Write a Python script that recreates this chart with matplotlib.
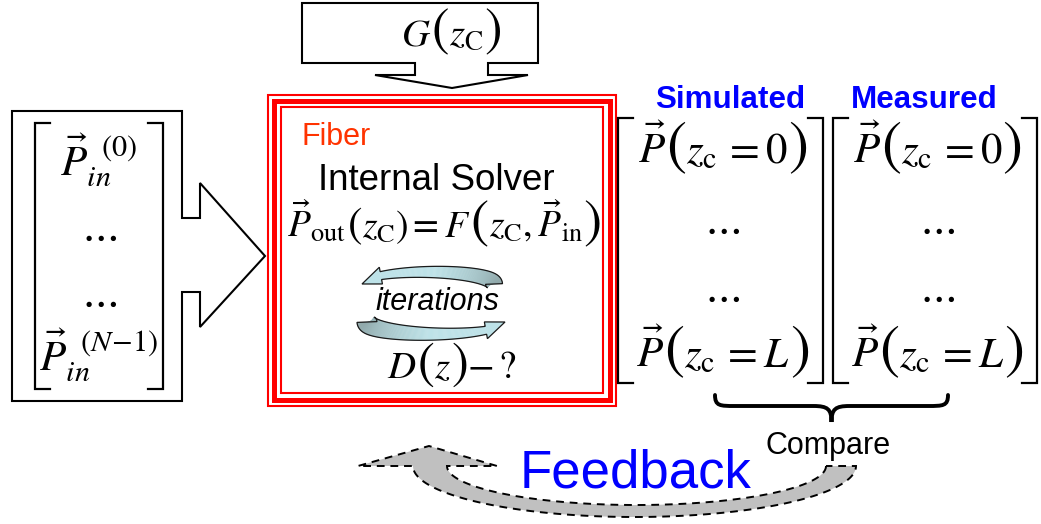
import numpy as np
import matplotlib
matplotlib.use("Agg")
import matplotlib.pyplot as plt
from matplotlib.patches import Polygon, Rectangle, PathPatch
from matplotlib.path import Path

plt.rcParams["font.family"] = ["Liberation Sans", "DejaVu Sans"]
plt.rcParams["mathtext.fontset"] = "stix"

W, H = 1041, 524

# text content; formulas are split so the brackets can be drawn taller
input_entries = [r"$\vec{P}_{in}^{\ \ (0)}$", r"$\cdots$", r"$\cdots$", r"$\vec{P}_{in}^{\ \ (N\!-\!1)}$"]
sim_first = [(r"$\vec{P}$", 1.0), (r"$($", 1.4), (r"$z_{\rm c}\,=0$", 1.0), (r"$)$", 1.4)]
sim_last = [(r"$\vec{P}$", 1.0), (r"$($", 1.4), (r"$z_{\rm c}\,=L$", 1.0), (r"$)$", 1.4)]
column_titles = ["Simulated", "Measured"]
gain_label = [(r"$G$", 1.0), (r"$($", 1.35), (r"$z_{\rm C}$", 1.0), (r"$)$", 1.35)]
solver_eq = [(r"$\vec{P}_{\rm out}$", 1.0), (r"$($", 1.15), (r"$z_{\rm C}$", 1.0), (r"$)=F$", 1.0),
             (r"$($", 1.45), (r"$z_{\rm C},\vec{P}_{\rm in}$", 1.0), (r"$)$", 1.45)]
unknown_label = [(r"$D$", 1.0), (r"$($", 1.3), (r"$z$", 1.0), (r"$)$", 1.3), (r"$-\,?$", 1.0)]

BLUE = "#0000ff"
RED = "#ff0000"


def math_row(ax, renderer, xc, yb, parts, size):
    texts, widths = [], []
    for s, scale in parts:
        t = ax.text(0, yb, s, fontsize=size * scale, ha="left", va="baseline")
        texts.append(t)
        widths.append(t.get_window_extent(renderer).width)
    x = xc - sum(widths) / 2
    for t, w in zip(texts, widths):
        t.set_x(x)
        x += w


def curved_arrow(ax, cx, cy, a, b, t0, t1, w0, w1, head_w, head_l, c0, c1):
    t = np.radians(np.linspace(t0, t1, 240))
    x = cx + a * np.cos(t)
    y = cy - b * np.sin(t)
    dx, dy = np.gradient(x), np.gradient(y)
    nrm = np.hypot(dx, dy)
    nx, ny = -dy / nrm, dx / nrm
    s = np.concatenate([[0], np.cumsum(np.hypot(np.diff(x), np.diff(y)))])
    k = int(np.searchsorted(s, s[-1] - head_l))
    w = np.linspace(w0, w1, k + 1)
    lx, ly = x[:k + 1] + nx[:k + 1] * w / 2, y[:k + 1] + ny[:k + 1] * w / 2
    rx, ry = x[:k + 1] - nx[:k + 1] * w / 2, y[:k + 1] - ny[:k + 1] * w / 2
    c0, c1 = np.array(matplotlib.colors.to_rgb(c0)), np.array(matplotlib.colors.to_rgb(c1))
    for i in range(k):
        f = min(1.0, 1.6 * i / max(k - 1, 1))
        col = c0 * (1 - f) + c1 * f
        ax.add_patch(Polygon([(lx[i], ly[i]), (lx[i + 1], ly[i + 1]), (rx[i + 1], ry[i + 1]), (rx[i], ry[i])],
                             closed=True, fc=col, ec=col, lw=0.3, zorder=3))
    b1 = (x[k] + nx[k] * head_w / 2, y[k] + ny[k] * head_w / 2)
    b2 = (x[k] - nx[k] * head_w / 2, y[k] - ny[k] * head_w / 2)
    tip = (x[-1], y[-1])
    ax.add_patch(Polygon([b1, tip, b2], closed=True, fc=c1, ec="none", zorder=3))
    outline = list(zip(lx, ly)) + [b1, tip, b2] + list(zip(rx[::-1], ry[::-1]))
    ax.add_patch(Polygon(outline, closed=True, fc="none", ec="#1a1a1a", lw=0.9, zorder=4))


def bracket(ax, x0, x1, y0, y1, serif=15, lw=1.6):
    ax.plot([x0 + serif, x0, x0, x0 + serif], [y0, y0, y1, y1], color="black", lw=lw, solid_joinstyle="miter")
    ax.plot([x1 - serif, x1, x1, x1 - serif], [y0, y0, y1, y1], color="black", lw=lw, solid_joinstyle="miter")


fig = plt.figure(figsize=(W / 100, H / 100), dpi=100)
ax = fig.add_axes([0, 0, 1, 1])
ax.set_xlim(0, W)
ax.set_ylim(H, 0)
ax.axis("off")
renderer = fig.canvas.get_renderer()

# left input callout
left_callout = [(12, 111), (182, 111), (182, 218), (200, 218), (200, 183), (265, 256), (200, 327),
                (200, 292), (182, 292), (182, 401), (12, 401)]
ax.add_patch(Polygon(left_callout, closed=True, fc="white", ec="black", lw=1.5, joinstyle="miter"))
bracket(ax, 35, 163, 123, 389)
for txt, yy in zip(input_entries, [160, 237, 303, 355]):
    ax.text(99, yy, txt, fontsize=31 if "P" in txt else 30, ha="center", va="center")

# top gain callout
top_callout = [(302, 3), (538, 3), (538, 63), (488, 63), (488, 75), (528, 75), (452, 88), (375, 75),
               (415, 75), (415, 63), (302, 63)]
ax.add_patch(Polygon(top_callout, closed=True, fc="white", ec="black", lw=1.5, joinstyle="miter"))
math_row(ax, renderer, 451, 45, gain_label, 28)

# red fiber box with triple border
ax.add_patch(Rectangle((268, 95), 348, 311, fc="none", ec=RED, lw=1.5))
ax.add_patch(Rectangle((274, 100.5), 336, 299.5, fc="none", ec=RED, lw=3.6))
ax.add_patch(Rectangle((281, 107), 322, 286, fc="none", ec=RED, lw=1.5))
ax.text(302, 145, "Fiber", color="#ff3300", fontsize=22, ha="left", va="baseline")
ax.text(436, 190, "Internal Solver", fontsize=26.5, ha="center", va="baseline")
math_row(ax, renderer, 444, 237, solver_eq, 27)
curved_arrow(ax, 428, 284, 66, 12, 0, 180, 17, 8, 17, 22, "#8ea6a8", "#bde2e8")
ax.text(437, 310, "iterations", fontsize=22, style="italic", ha="center", va="baseline")
curved_arrow(ax, 436, 322, 69, 12, 180, 360, 20, 8, 17, 22, "#8ea6a8", "#bde2e8")
math_row(ax, renderer, 452, 378, unknown_label, 28)

# simulated / measured columns
for x0, x1, xt, title in [(618, 823, 730, column_titles[0]), (833, 1037, 924, column_titles[1])]:
    bracket(ax, x0, x1, 118, 383)
    xc = (x0 + x1) / 2
    ax.text(xt, 108, title, color=BLUE, fontsize=22.6, fontweight="bold", ha="center", va="baseline")
    math_row(ax, renderer, xc + 2, 163, sim_first, 31)
    ax.text(xc + 2, 230, r"$\cdots$", fontsize=30, ha="center", va="center")
    ax.text(xc + 2, 298, r"$\cdots$", fontsize=30, ha="center", va="center")
    math_row(ax, renderer, xc + 2, 367, sim_last, 31)

# compare brace
bx0, bx1, byt, bym, byp = 715, 948, 395, 406, 422
bxm = (bx0 + bx1) / 2
verts = [(bx0, byt), (bx0, bym), (bx0 + 5, bym), (bx0 + 20, bym), (bxm - 18, bym),
         (bxm - 4, bym), (bxm, bym + 3), (bxm, byp),
         (bxm, bym + 3), (bxm + 4, bym), (bxm + 18, bym), (bx1 - 20, bym),
         (bx1 - 5, bym), (bx1, bym), (bx1, byt)]
codes = [Path.MOVETO, Path.CURVE4, Path.CURVE4, Path.CURVE4, Path.LINETO,
         Path.CURVE4, Path.CURVE4, Path.CURVE4,
         Path.CURVE4, Path.CURVE4, Path.CURVE4, Path.LINETO,
         Path.CURVE4, Path.CURVE4, Path.CURVE4]
ax.add_patch(PathPatch(Path(verts, codes), fc="none", ec="black", lw=2.8, capstyle="round"))
ax.text(828, 454, "Compare", fontsize=22, ha="center", va="baseline")

# feedback arrow
th = np.radians(np.linspace(0, 180, 120))
inner = np.column_stack([636.5 + 189.5 * np.cos(th), 466 + 39 * np.sin(th)])
outer = np.column_stack([634.5 - 221.5 * np.cos(th), 466 + 51 * np.sin(th)])
fb = list(map(tuple, inner)) + [(497, 466), (429, 446), (358, 466)] + list(map(tuple, outer))
ax.add_patch(Polygon(fb, closed=True, fc="#c0c0c0", ec="black", lw=1.4, ls=(0, (4, 3))))
ax.text(636, 487, "Feedback", color=BLUE, fontsize=38, ha="center", va="baseline")

fig.savefig("out.png", dpi=100)
